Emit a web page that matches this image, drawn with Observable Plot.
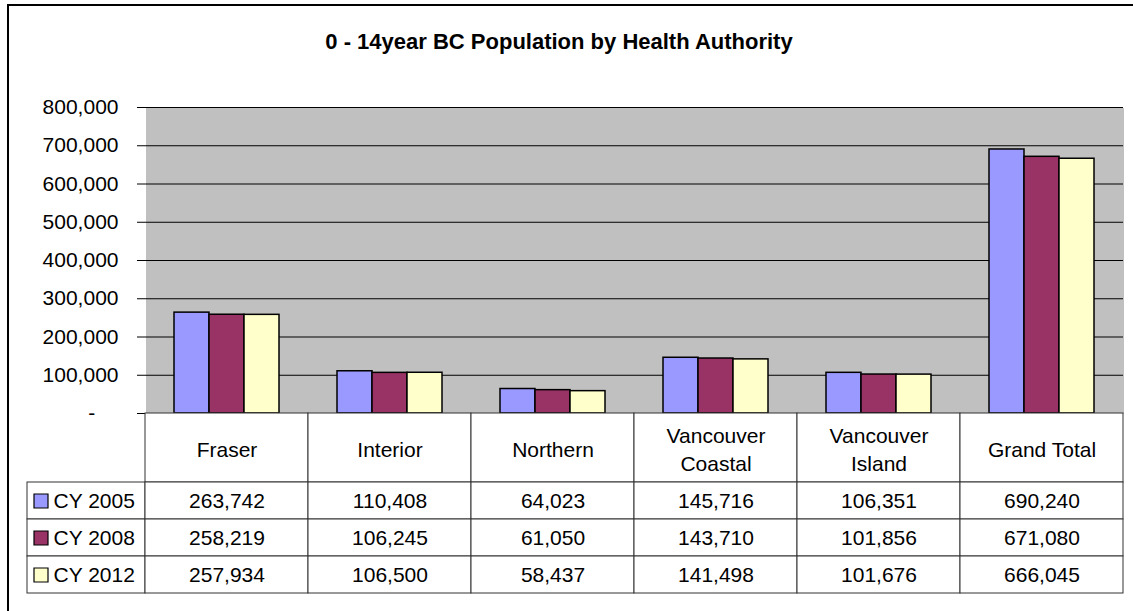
<!DOCTYPE html>
<html>
<head>
<meta charset="utf-8">
<script src="https://cdn.jsdelivr.net/npm/d3@7"></script>
<script src="https://cdn.jsdelivr.net/npm/@observablehq/plot@0.6"></script>
<style>
  html, body { margin: 0; padding: 0; background: #fff; overflow: hidden; }
  #wrap { position: relative; width: 1133px; height: 611px; font-family: "Liberation Sans", Arial, sans-serif; }
  #border { position: absolute; left: 7px; top: 4px; width: 1200px; height: 700px; border-top: 2px solid #000; border-left: 2px solid #000; }
  #title { position: absolute; left: 0; top: 30px; width: 1118px; text-align: center; font-weight: bold; font-size: 22px; line-height: 24px; color: #000; }
  .part { position: absolute; }
  .part svg { overflow: visible; }
</style>
</head>
<body>
<div id="wrap">
  <div id="border"></div>
  <div id="title">0 - 14year BC Population by Health Authority</div>
  <div id="bars" class="part" style="left:0;top:0"></div>
  <div id="header" class="part" style="left:0;top:413px"></div>
  <div id="legend" class="part" style="left:0;top:482px"></div>
  <div id="values" class="part" style="left:0;top:482px"></div>
</div>
<script>
const categories = ["Fraser", "Interior", "Northern", "Vancouver Coastal", "Vancouver Island", "Grand Total"];
const headerLabels = ["Fraser", "Interior", "Northern", "Vancouver\nCoastal", "Vancouver\nIsland", "Grand Total"];
const series = ["CY 2005", "CY 2008", "CY 2012"];
const cy2005 = [263742, 110408, 64023, 145716, 106351, 690240];
const cy2008 = [258219, 106245, 61050, 143710, 101856, 671080];
const cy2012 = [257934, 106500, 58437, 141498, 101676, 666045];
const seriesColors = ["#9999FF", "#993366", "#FFFFCC"];
const yTicks = [0, 100000, 200000, 300000, 400000, 500000, 600000, 700000, 800000];

const seriesValues = [cy2005, cy2008, cy2012];
const rows = [];
series.forEach((s, si) => categories.forEach((c, ci) => rows.push({cat: c, series: s, value: seriesValues[si][ci]})));

const fmt = d3.format(",");
const font = '"Liberation Sans", Arial, sans-serif';
const baseStyle = {fontFamily: font, fontSize: "21px", color: "#000", background: "transparent", overflow: "visible"};
const lineColor = "#333333";

const bars = Plot.plot({
  width: 1133, height: 414,
  marginTop: 107, marginBottom: 1, marginLeft: 145, marginRight: 10,
  fx: {domain: categories, padding: 0, axis: null},
  x: {domain: series, paddingInner: 0, paddingOuter: 0.78, axis: null},
  y: {domain: [0, 800000], axis: null},
  color: {domain: series, range: seriesColors},
  style: baseStyle,
  marks: [
    Plot.frame({fill: "#C0C0C0", shapeRendering: "crispEdges"}),
    Plot.ruleY(yTicks.slice(1), {stroke: "#000", strokeWidth: 1}),
    Plot.axisY({ticks: yTicks, tickSize: 8, tickPadding: 19, label: null, fontSize: 21,
      tickFormat: d => d === 0 ? "-\u00a0\u00a0\u00a0\u00a0" : fmt(d)}),
    Plot.barY(rows, {fx: "cat", x: "series", y: "value", fill: "series", stroke: "#000", strokeWidth: 1.5}),
    Plot.ruleY([0], {stroke: "#000"})
  ]
});
document.getElementById("bars").appendChild(bars);

const header = Plot.plot({
  width: 1133, height: 69,
  marginTop: 0, marginBottom: 0, marginLeft: 145, marginRight: 10,
  x: {domain: categories, padding: 0, axis: null},
  style: baseStyle,
  marks: [
    Plot.cell(categories, {x: d => d, fill: "#fff", stroke: lineColor}),
    Plot.text(categories, {x: d => d, text: (d, i) => headerLabels[i], frameAnchor: "middle", fontSize: 21, lineHeight: 1.33, fill: "#000"})
  ]
});
document.getElementById("header").appendChild(header);

const values = Plot.plot({
  width: 1133, height: 111,
  marginTop: 0, marginBottom: 0, marginLeft: 145, marginRight: 10,
  x: {domain: categories, padding: 0, axis: null},
  y: {domain: series, padding: 0, axis: null},
  style: baseStyle,
  marks: [
    Plot.cell(rows, {x: "cat", y: "series", fill: "#fff", stroke: lineColor}),
    Plot.text(rows, {x: "cat", y: "series", text: d => fmt(d.value), fontSize: 21, fill: "#000"})
  ]
});
document.getElementById("values").appendChild(values);

const legend = Plot.plot({
  width: 145, height: 111,
  marginTop: 0, marginBottom: 0, marginLeft: 27, marginRight: 0,
  y: {domain: series, padding: 0, axis: null},
  color: {domain: series, range: seriesColors},
  style: baseStyle,
  marks: [
    Plot.cell(series, {y: d => d, fill: "#fff", stroke: lineColor}),
    Plot.dot(series, {y: d => d, frameAnchor: "left", dx: 13.5, symbol: "square", r: 7.9, fill: d => d, stroke: "#000", strokeWidth: 1.2}),
    Plot.text(series, {y: d => d, text: d => d, frameAnchor: "left", dx: 26, textAnchor: "start", fontSize: 21, fill: "#000"})
  ]
});
document.getElementById("legend").appendChild(legend);
</script>
</body>
</html>
